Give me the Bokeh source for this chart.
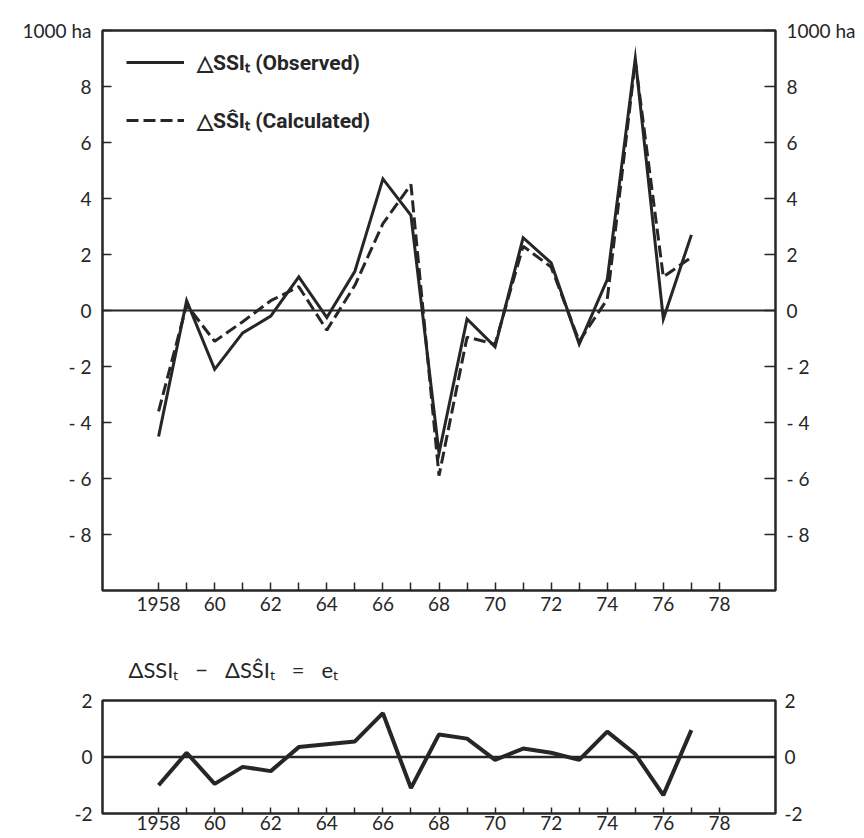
from bokeh.plotting import figure
from bokeh.models import Range1d, LinearAxis, FixedTicker, Legend, LegendItem, Span, Title
from bokeh.layouts import column
from bokeh.embed import file_html
from bokeh.resources import INLINE

# ---- data ----
years = [1958, 1959, 1960, 1961, 1962, 1963, 1964, 1965, 1966, 1967,
         1968, 1969, 1970, 1971, 1972, 1973, 1974, 1975, 1976, 1977]
observed = [-4.5, 0.35, -2.1, -0.8, -0.2, 1.2, -0.25, 1.4, 4.7, 3.4,
            -5.1, -0.3, -1.3, 2.6, 1.7, -1.2, 1.1, 9.0, -0.3, 2.7]
calculated = [-3.6, 0.2, -1.1, -0.4, 0.35, 0.85, -0.7, 0.9, 3.1, 4.5,
              -5.9, -0.95, -1.2, 2.3, 1.55, -1.1, 0.4, 8.9, 1.2, 1.9]
residual = [-1.0, 0.15, -0.95, -0.35, -0.5, 0.35, 0.45, 0.55, 1.55, -1.1,
            0.8, 0.65, -0.1, 0.3, 0.15, -0.1, 0.9, 0.1, -1.35, 0.95]

x_ticks = list(range(1958, 1979))
x_tick_labels = {1958: "1958", 1960: "60", 1962: "62", 1964: "64", 1966: "66",
                 1968: "68", 1970: "70", 1972: "72", 1974: "74", 1976: "76", 1978: "78"}
# the unit caption "1000 ha" sits at the top end of both y axes
y_ticks_main = [-8, -6, -4, -2, 0, 2, 4, 6, 8, 10]
y_tick_labels_main = {-8: "- 8", -6: "- 6", -4: "- 4", -2: "- 2", 0: "0",
                      2: "2", 4: "4", 6: "6", 8: "8", 10: "1000 ha"}
y_ticks_res = [-2, 0, 2]
y_tick_labels_res = {-2: "-2", 0: "0", 2: "2"}

legend_obs = "△SSIₜ (Observed)"
legend_calc = "△SŜIₜ (Calculated)"
SP = "\u00a0\u00a0\u00a0"
res_title = "ΔSSIₜ" + SP + "−" + SP + "ΔSŜIₜ" + SP + "=" + SP + "eₜ"

INK = "#262626"
FONT = "Lato"
W = 860


def style_x(ax, tick_in):
    ax.ticker = FixedTicker(ticks=x_ticks)
    overrides = {}
    for t in x_ticks:
        overrides[t] = x_tick_labels.get(t, "")
    ax.major_label_overrides = overrides
    ax.major_tick_in = tick_in
    ax.major_tick_out = 0
    ax.minor_tick_line_color = None
    ax.major_tick_line_color = INK
    ax.major_tick_line_width = 1.5
    ax.axis_line_color = None
    ax.major_label_text_font = FONT
    ax.major_label_text_font_size = "19px"
    ax.major_label_text_color = INK


def style_y(ax, ticks, labels, tick_in, standoff):
    ax.ticker = FixedTicker(ticks=ticks)
    ax.major_label_overrides = labels
    ax.major_tick_in = tick_in
    ax.major_tick_out = 0
    ax.minor_tick_line_color = None
    ax.major_tick_line_color = INK
    ax.major_tick_line_width = 1.5
    ax.axis_line_color = None
    ax.major_label_standoff = standoff
    ax.major_label_text_font = FONT
    ax.major_label_text_font_size = "19px"
    ax.major_label_text_color = INK


# ---- main chart ----
p = figure(width=W, height=635, x_range=Range1d(1956, 1980), y_range=Range1d(-10, 10),
           output_backend="svg", toolbar_location=None,
           min_border_left=100, min_border_right=W - 775, min_border_top=30, min_border_bottom=45,
           outline_line_color=INK, outline_line_width=2.5)
p.grid.visible = False
style_x(p.xaxis[0], 8)
p.xaxis[0].major_label_standoff = 6
style_y(p.yaxis[0], y_ticks_main, y_tick_labels_main, 9, 11)
ry = LinearAxis()
style_y(ry, y_ticks_main, y_tick_labels_main, 11, 11)
p.add_layout(ry, "right")

p.add_layout(Span(location=0, dimension="width", line_color=INK, line_width=2))

r_obs = p.line(years, observed, line_color=INK, line_width=3, line_join="miter")
r_calc = p.line(years, calculated, line_color=INK, line_width=3, line_dash="12 5")

legend = Legend(items=[LegendItem(label=legend_obs, renderers=[r_obs]),
                       LegendItem(label=legend_calc, renderers=[r_calc])],
                location=(24, 456), margin=0, padding=3,
                border_line_color=None, background_fill_alpha=0,
                glyph_width=58, glyph_height=20, label_height=20, spacing=30,
                label_standoff=13, label_text_font="Roboto",
                label_text_font_style="bold", label_text_font_size="21px",
                label_text_color=INK)
p.add_layout(legend)

# ---- residual chart ----
p2 = figure(width=W, height=200, x_range=Range1d(1956, 1980), y_range=Range1d(-2, 2),
            output_backend="svg", toolbar_location=None,
            min_border_left=102, min_border_right=W - 780, min_border_top=65, min_border_bottom=22,
            outline_line_color=INK, outline_line_width=2.5)
p2.grid.visible = False
p2.title = Title(text=res_title, align="left", offset=26, standoff=35,
                 text_font=FONT, text_font_size="22px", text_font_style="normal",
                 text_color=INK)
style_x(p2.xaxis[0], 6)
p2.xaxis[0].major_label_standoff = 2
style_y(p2.yaxis[0], y_ticks_res, y_tick_labels_res, 0, 10)
ry2 = LinearAxis()
style_y(ry2, y_ticks_res, y_tick_labels_res, 0, 9)
p2.add_layout(ry2, "right")
p2.add_layout(Span(location=0, dimension="width", line_color=INK, line_width=2.5))
p2.line(years, residual, line_color=INK, line_width=4)

layout = column(p, p2, spacing=0)
open("out.html", "w").write(file_html(layout, INLINE))
